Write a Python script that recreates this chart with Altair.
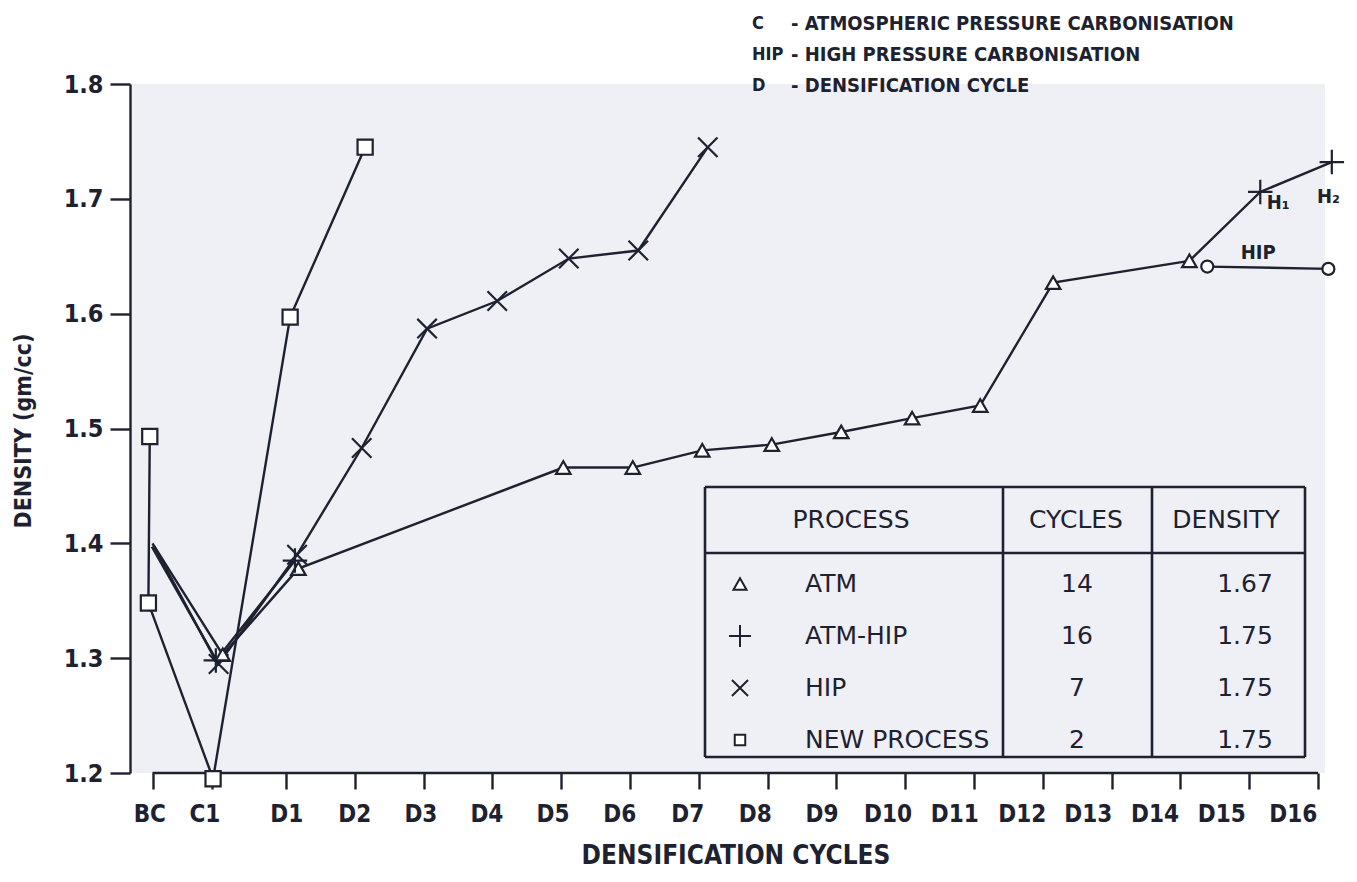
import altair as alt
import pandas as pd

# ---------------- data ----------------
# x in cycle units: BC ~ -1, C1 ~ 0, Dk = k  (points are placed where the figure draws them)
NEW_X = [-0.98, -1.00, -0.06, 1.06, 2.15]
NEW_Y = [1.493, 1.348, 1.195, 1.597, 1.745]

HIP_X = [-0.95, 0.02, 1.16, 2.10, 3.05, 4.07, 5.11, 6.12, 7.13]
HIP_Y = [1.397, 1.295, 1.390, 1.483, 1.587, 1.611, 1.648, 1.655, 1.745]

ATM_X = [-0.92, 0.08, 1.18, 5.03, 6.04, 7.05, 8.06, 9.07, 10.10, 11.09, 12.15, 14.13]
ATM_Y = [1.398, 1.303, 1.378, 1.466, 1.466, 1.481, 1.486, 1.497, 1.509, 1.520, 1.627, 1.646]

ATMHIP_X = [-0.94, -0.02, 1.13, 14.13, 15.16, 16.20]
ATMHIP_Y = [1.400, 1.298, 1.385, 1.646, 1.706, 1.732]
ATMHIP_SEG = [0, 0, 0, 1, 1, 1]
ATMHIP_MARKED = [False, True, True, False, True, True]

HIPB_X = [14.39, 16.15]
HIPB_Y = [1.641, 1.639]

# axis ticks / labels
XTICK_POS = [-0.94, -0.08] + list(range(1, 17))
XLAB_TEXT = ["BC", "C1"] + [f"D{i}" for i in range(1, 17)]
XLAB_POS = [-0.98, -0.18, 1.01, 2.00, 2.96, 3.92, 4.88, 5.85, 6.84, 7.82, 8.79,
            9.75, 10.72, 11.70, 12.66, 13.63, 14.60, 15.64]
YTICKS = [1.2, 1.3, 1.4, 1.5, 1.6, 1.7, 1.8]

# annotations
ANN_TEXT = ["H₁", "H₂", "HIP"]
ANN_X = [15.42, 16.15, 15.13]
ANN_Y = [1.696, 1.702, 1.653]

KEY_ABBR = ["C", "HIP", "D"]
KEY_DESC = ["- ATMOSPHERIC PRESSURE CARBONISATION", "- HIGH PRESSURE CARBONISATION",
            "- DENSIFICATION CYCLE"]

TABLE_HEAD = ["PROCESS", "CYCLES", "DENSITY"]
TABLE_PROC = ["ATM", "ATM-HIP", "HIP", "NEW PROCESS"]
TABLE_CYC = ["14", "16", "7", "2"]
TABLE_DEN = ["1.67", "1.75", "1.75", "1.75"]

# ---------------- style / layout ----------------
LINE = "#1e2130"
BG = "#eef0f6"
FONT = "DejaVu Sans Condensed, DejaVu Sans, sans-serif"
TFONT = "DejaVu Sans, sans-serif"
W, H = 1195, 689
OX, OY = 130, 84  # page position of plot origin
XDOM = [-1.2674, 16.101]
YDOM = [1.2, 1.8]

PLUS = "M-1,0L1,0M0,-1L0,1"
XPATH = "M-1,-1L1,1M-1,1L1,-1"
SERIES = ["ATM", "ATM-HIP", "HIP", "NEW PROCESS", "HIP branch"]
SHAPES = ["triangle-up", PLUS, XPATH, "square", "circle"]
SIZES = [210, 600, 380, 230, 144]

xs = alt.Scale(domain=XDOM, nice=False, zero=False)
ys = alt.Scale(domain=YDOM, nice=False, zero=False)
shape_scale = alt.Scale(domain=SERIES, range=SHAPES)
size_scale = alt.Scale(type="ordinal", domain=SERIES, range=SIZES)

XAX = alt.Axis(values=XTICK_POS, labels=False, domain=False, tickSize=16, tickWidth=2.4,
               tickColor=LINE, grid=False, title=None)
YAX = alt.Axis(values=YTICKS, format=".1f", labelFontSize=25, labelFontWeight="bold",
               labelFont=FONT, labelColor=LINE, labelPadding=7, tickSize=20, tickWidth=2.4,
               tickColor=LINE, domainColor=LINE, domainWidth=2.4, grid=False, title=None)

# ---------------- build tables ----------------
line_rows, mark_rows = [], []


def add(series, xv, yv, segs=None, marked=None):
    for i, (a, b) in enumerate(zip(xv, yv)):
        seg = f"{series}-{segs[i] if segs else 0}"
        line_rows.append({"series": series, "seg": seg, "i": i, "x": a, "y": b})
        if marked is None or marked[i]:
            mark_rows.append({"series": series, "x": a, "y": b})


add("NEW PROCESS", NEW_X, NEW_Y)
add("HIP", HIP_X, HIP_Y, marked=[False] + [True] * (len(HIP_X) - 1))
add("ATM", ATM_X, ATM_Y, marked=[False] + [True] * (len(ATM_X) - 1))
add("ATM-HIP", ATMHIP_X, ATMHIP_Y, segs=ATMHIP_SEG, marked=ATMHIP_MARKED)
add("HIP branch", HIPB_X, HIPB_Y)

lines_df = pd.DataFrame(line_rows)
marks_df = pd.DataFrame(mark_rows)
one = pd.DataFrame({"k": [0]})

layers = []

# x-axis baseline (BC to D16) + axes
axis_df = pd.DataFrame({"x": [XTICK_POS[0]], "x2": [XTICK_POS[-1]], "y": [1.2]})
layers.append(
    alt.Chart(axis_df).mark_rule(color=LINE, strokeWidth=2.4).encode(
        x=alt.X("x:Q", scale=xs, axis=XAX),
        x2="x2:Q",
        y=alt.Y("y:Q", scale=ys, axis=YAX),
    )
)

# lines
layers.append(
    alt.Chart(lines_df).mark_line(color=LINE, strokeWidth=2.4).encode(
        x=alt.X("x:Q", scale=xs, axis=XAX),
        y=alt.Y("y:Q", scale=ys, axis=YAX),
        detail="seg:N",
        order="i:Q",
    )
)

# markers
layers.append(
    alt.Chart(marks_df).mark_point(filled=True, fill="white", stroke=LINE, strokeWidth=2.2,
                                   opacity=1).encode(
        x=alt.X("x:Q", scale=xs, axis=XAX),
        y=alt.Y("y:Q", scale=ys, axis=YAX),
        shape=alt.Shape("series:N", scale=shape_scale, legend=None),
        size=alt.Size("series:N", scale=size_scale, legend=None),
    )
)

# x tick labels
xl_df = pd.DataFrame({"lab": XLAB_TEXT, "x": XLAB_POS})
layers.append(
    alt.Chart(xl_df).mark_text(font=FONT, fontSize=24, fontWeight="bold", color=LINE,
                               baseline="middle", align="center").encode(
        x=alt.X("x:Q", scale=xs, axis=XAX), y=alt.value(815 - OY), text="lab:N")
)

# point annotations H1, H2, HIP
ann_df = pd.DataFrame({"t": ANN_TEXT, "x": ANN_X, "y": ANN_Y})
layers.append(
    alt.Chart(ann_df).mark_text(font=FONT, fontSize=20, fontWeight="bold", color=LINE,
                                align="center", baseline="middle").encode(
        x=alt.X("x:Q", scale=xs, axis=XAX), y=alt.Y("y:Q", scale=ys, axis=YAX), text="t:N")
)


def txt(t, px, py, size=20, weight="bold", align="center", angle=0, font=FONT):
    return alt.Chart(one).mark_text(text=t, font=font, fontSize=size, fontWeight=weight,
                                    color=LINE, align=align, baseline="middle",
                                    angle=angle).encode(x=alt.value(px - OX), y=alt.value(py - OY))


def rule(px1, py1, px2, py2, w=2.6):
    return alt.Chart(one).mark_rule(color=LINE, strokeWidth=w).encode(
        x=alt.value(px1 - OX), x2=alt.value(px2 - OX), y=alt.value(py1 - OY), y2=alt.value(py2 - OY))


# axis titles
layers.append(txt("DENSIFICATION CYCLES", 736, 856, size=26))
layers.append(txt("DENSITY (gm/cc)", 24, 431, size=23, angle=270))

# key at the top right
for k, (a, d) in enumerate(zip(KEY_ABBR, KEY_DESC)):
    yy = 24 + k * 31
    layers.append(txt(a, 752, yy, size=18, align="left"))
    layers.append(txt(d, 791, yy, size=20, align="left"))

# table box
TL, TR, TT, TB = 705, 1305, 487, 757
C1X, C2X, HY = 1003, 1152, 553
layers += [rule(TL, TT, TR, TT), rule(TL, TB, TR, TB), rule(TL, TT, TL, TB), rule(TR, TT, TR, TB),
           rule(C1X, TT, C1X, TB), rule(C2X, TT, C2X, TB), rule(TL, HY, TR, HY)]
layers.append(txt(TABLE_HEAD[0], 851, 520, size=25, weight="normal", font=TFONT))
layers.append(txt(TABLE_HEAD[1], 1076, 520, size=25, weight="normal", font=TFONT))
layers.append(txt(TABLE_HEAD[2], 1226, 520, size=25, weight="normal", font=TFONT))

TABLE_SIZES = [170, 480, 260, 110]
for r, (p, c, d) in enumerate(zip(TABLE_PROC, TABLE_CYC, TABLE_DEN)):
    yy = 584 + r * 52
    sym_df = pd.DataFrame({"series": [p]})
    layers.append(
        alt.Chart(sym_df).mark_point(filled=True, fill="white", stroke=LINE, strokeWidth=2,
                                     opacity=1).encode(
            x=alt.value(740 - OX), y=alt.value(yy - OY),
            shape=alt.Shape("series:N", scale=shape_scale, legend=None),
            size=alt.value(TABLE_SIZES[r]))
    )
    layers.append(txt(p, 805, yy, size=25, weight="normal", align="left", font=TFONT))
    layers.append(txt(c, 1077, yy, size=25, weight="normal", font=TFONT))
    layers.append(txt(d, 1245, yy, size=25, weight="normal", font=TFONT))

chart = alt.layer(*layers).properties(
    width=W, height=H,
    padding={"left": 122, "top": 76, "right": 20, "bottom": 97},
    autosize=alt.AutoSizeParams(type="none"),
    background="white",
).configure_view(fill=BG, stroke=None)

chart.save("out.html", embed_options={"renderer": "svg", "actions": False})
